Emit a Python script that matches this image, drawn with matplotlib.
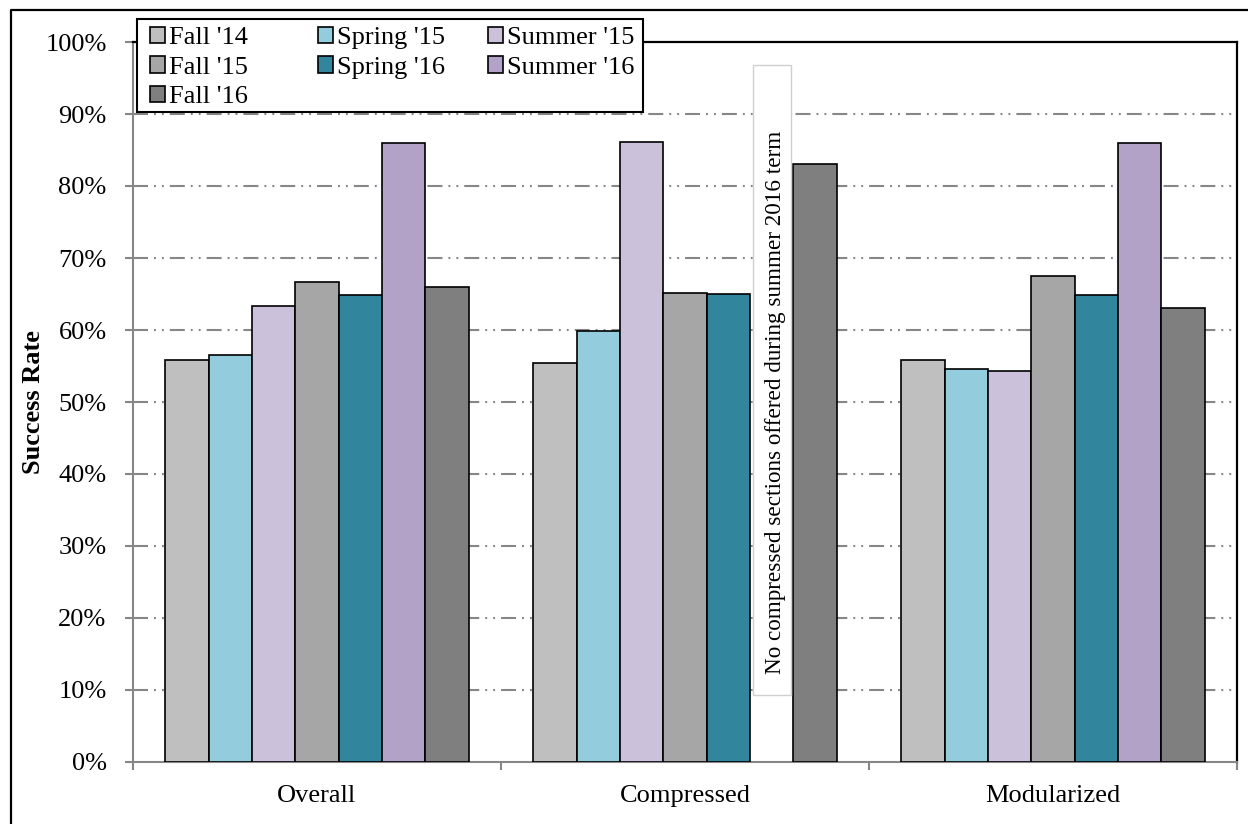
import numpy as np
import matplotlib
matplotlib.use("Agg")
import matplotlib.pyplot as plt
from matplotlib.patches import Rectangle, Patch
from matplotlib.lines import Line2D

plt.rcParams['font.family'] = ['Liberation Serif', 'DejaVu Serif']
plt.rcParams['lines.scale_dashes'] = False

categories = ["Overall", "Compressed", "Modularized"]
terms = ["Fall '14", "Spring '15", "Summer '15", "Fall '15", "Spring '16", "Summer '16", "Fall '16"]
colors = ["#BFBFBF", "#93CDDD", "#CCC1DA", "#A6A6A6", "#31859C", "#B3A2C7", "#7F7F7F"]

# success rate (%) per term, one list per category order above
fall14 = [55.8, 55.4, 55.8]
spring15 = [56.5, 59.9, 54.6]
summer15 = [63.4, 86.1, 54.3]
fall15 = [66.6, 65.2, 67.5]
spring16 = [64.8, 65.0, 64.8]
summer16 = [86.0, np.nan, 86.0]
fall16 = [66.0, 83.1, 63.0]
series = [fall14, spring15, summer15, fall15, spring16, summer16, fall16]

yticks = np.arange(0, 101, 10)
note = "No compressed sections offered during summer 2016 term"

fig = plt.figure(figsize=(12.48, 8.24), dpi=100)
W, H = 1248, 824
ax = fig.add_axes([133 / W, 1 - 762 / H, (1237 - 133) / W, (762 - 42) / H])

x = np.arange(len(categories))
bw = 0.1177
grid_col = "#878787"
fs = 19

for j, (vals, col) in enumerate(zip(series, colors)):
    ax.bar(x + (j - 3) * bw, vals, width=bw, color=col, edgecolor="black",
           linewidth=1.2, zorder=3, label=terms[j])

ax.set_xlim(-0.5, 2.5)
ax.set_ylim(0, 100)
ax.set_yticks(yticks)
ax.set_yticklabels([f"{v}%" for v in yticks], fontsize=fs)
ax.set_xticks(x)
ax.set_xticklabels(categories, fontsize=fs)
ax.set_xticks(np.arange(-0.5, 2.6, 1.0), minor=True)
ax.tick_params(axis="x", which="major", length=0, pad=16.5)
ax.tick_params(axis="x", which="minor", length=6, width=1.5, color=grid_col, direction="out")
ax.tick_params(axis="y", length=6, width=1.5, color=grid_col, direction="out", pad=13)

# dash-dot-dot gridlines
for v in yticks[1:-1]:
    ax.axhline(v, color=grid_col, linewidth=1.5,
               linestyle=(0, (10.8, 4.3, 1.4, 4.3, 1.4, 4.3)), zorder=1)

for s in ["left", "bottom"]:
    ax.spines[s].set_color(grid_col)
    ax.spines[s].set_linewidth(1.5)
for s in ["top", "right"]:
    ax.spines[s].set_color("black")
    ax.spines[s].set_linewidth(1.6)

ax.set_ylabel("Success Rate", fontsize=fs, fontweight="bold")
ax.yaxis.set_label_coords(-0.08, 0.5)

# note box in the empty Summer '16 slot of the Compressed group
slot = x[1] + 2 * bw
box = Rectangle((slot - 0.44 * bw, 9.3), 0.88 * bw, 96.8 - 9.3,
                facecolor="white", edgecolor="#D0D0D0", linewidth=1.0, zorder=4)
ax.add_patch(box)
ax.text(slot + 0.1 * bw, 50, note, rotation=90, ha="center", va="center",
        fontsize=16.7, zorder=5)

# legend: a framed box with three equal-width columns, filled row by row
frame = Rectangle((137 / W, 1 - 112 / H), (643 - 137) / W, (112 - 19) / H,
                  transform=fig.transFigure, facecolor="white", edgecolor="black",
                  linewidth=1.5, zorder=4)
fig.add_artist(frame)
columns = [[0, 3, 6], [1, 4], [2, 5]]
col_x = [150, 318, 488]
for idx, cx in zip(columns, col_x):
    handles = [Patch(facecolor=colors[i], edgecolor="black", linewidth=1.2) for i in idx]
    labels = [terms[i] for i in idx]
    lg = fig.legend(handles, labels, loc="upper left",
                    bbox_to_anchor=(cx / W, 1 - 27 / H), bbox_transform=fig.transFigure,
                    fontsize=fs, frameon=False,
                    handlelength=0.57, handleheight=0.57, handletextpad=0.15,
                    labelspacing=0.26, borderpad=0.0, borderaxespad=0.0)
    lg.set_zorder(5)

# outer frame
fig.add_artist(Line2D([11 / W, 11 / W, 1.0], [0.0, 1 - 10 / H, 1 - 10 / H],
                      transform=fig.transFigure, color="black", linewidth=1.6))

fig.savefig("out.png", dpi=100)
